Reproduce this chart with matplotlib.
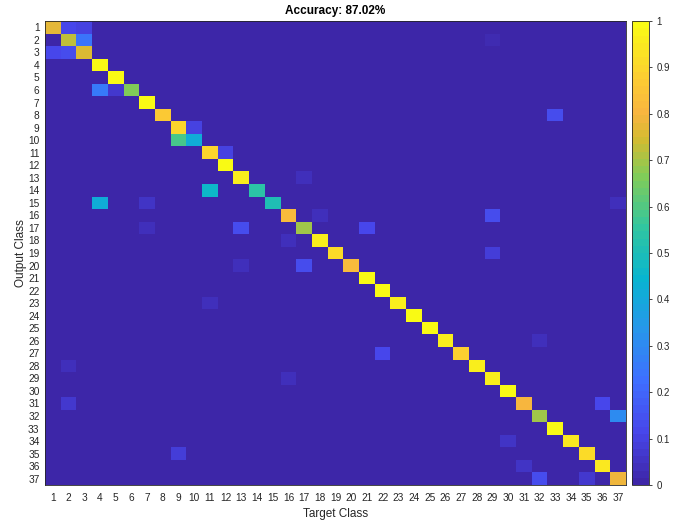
import numpy as np
import matplotlib
matplotlib.use("Agg")
import matplotlib.pyplot as plt
from matplotlib.colors import LinearSegmentedColormap

plt.rcParams["font.family"] = ["Liberation Sans", "DejaVu Sans"]

n_classes = 37
class_labels = [str(i) for i in range(1, n_classes + 1)]

# diagonal (row-normalised, output class rows)
diag_values = [0.78, 0.73, 0.75, 1.00, 1.00, 0.67, 1.00, 0.86, 0.90, 0.42,
               0.90, 1.00, 0.96, 0.54, 0.50, 0.82, 0.70, 0.96, 0.92, 0.82,
               1.00, 1.00, 0.96, 1.00, 1.00, 0.96, 0.89, 0.96, 0.96, 1.00,
               0.81, 0.70, 1.00, 0.94, 0.91, 0.95, 0.79]

# off-diagonal cells: output row, target column, value
off_rows = [1, 1, 2, 2, 3, 3, 6, 6, 8, 9, 10, 11, 13, 14, 15, 15, 15,
            16, 16, 17, 17, 17, 18, 19, 20, 20, 23, 26, 27, 28, 29,
            31, 31, 32, 34, 35, 36, 37, 37]
off_cols = [2, 3, 3, 29, 1, 2, 4, 5, 33, 10, 9, 12, 17, 11, 4, 7, 37,
            18, 29, 7, 13, 21, 16, 29, 13, 17, 11, 32, 22, 2, 16,
            2, 36, 37, 30, 9, 31, 32, 35]
off_values = [0.12, 0.10, 0.24, 0.03, 0.11, 0.14, 0.26, 0.07, 0.14, 0.10, 0.58, 0.10, 0.04, 0.46, 0.41, 0.05, 0.04,
              0.04, 0.14, 0.04, 0.14, 0.12, 0.04, 0.08, 0.04, 0.14, 0.04, 0.04, 0.11, 0.04, 0.04,
              0.07, 0.12, 0.30, 0.06, 0.09, 0.05, 0.14, 0.07]

M = np.zeros((n_classes, n_classes))
M[np.arange(n_classes), np.arange(n_classes)] = diag_values
for r, c, v in zip(off_rows, off_cols, off_values):
    M[r - 1, c - 1] = v

# parula-like colormap (64 steps)
parula_pts = [
    (0.000, (0.2422, 0.1504, 0.6603)),
    (0.111, (0.2803, 0.2782, 0.9221)),
    (0.222, (0.2440, 0.4358, 0.9988)),
    (0.333, (0.1540, 0.5902, 0.9218)),
    (0.444, (0.0297, 0.7082, 0.8163)),
    (0.556, (0.1938, 0.7758, 0.6251)),
    (0.667, (0.5044, 0.7993, 0.3480)),
    (0.750, (0.8300, 0.7350, 0.1900)),
    (0.805, (0.9700, 0.7100, 0.2500)),
    (0.880, (0.9900, 0.8000, 0.2000)),
    (1.000, (0.9769, 0.9839, 0.0805)),
]
parula = LinearSegmentedColormap.from_list("parula", parula_pts, N=64)

fig = plt.figure(figsize=(6.83, 5.21), dpi=100)
ax = fig.add_axes([45 / 683, 1 - 485 / 521, 581 / 683, 464 / 521])
im = ax.imshow(M, cmap=parula, vmin=0, vmax=1, aspect="auto",
               interpolation="nearest",
               extent=(0.5, n_classes + 0.5, n_classes + 0.5, 0.5))

ax.set_xticks(np.arange(1, n_classes + 1))
ax.set_yticks(np.arange(1, n_classes + 1))
ax.set_xticklabels(class_labels, fontsize=7.3, color="#262626")
ax.set_yticklabels(class_labels, fontsize=7.3, color="#262626")
ax.tick_params(axis="x", length=0, pad=6)
ax.tick_params(axis="y", length=0, pad=4)
for s in ax.spines.values():
    s.set_color("#262626")
    s.set_linewidth(0.6)

ax.set_xlabel("Target Class", fontsize=8.5, color="#262626", labelpad=3)
ax.set_ylabel("Output Class", fontsize=8.5, color="#262626", labelpad=1)
ax.set_title("Accuracy: 87.02%", fontsize=8.5, fontweight="bold", pad=5)

cax = fig.add_axes([632 / 683, 1 - 485 / 521, 17 / 683, 464 / 521])
cb = fig.colorbar(im, cax=cax, ticks=np.linspace(0, 1, 11))
cb.ax.set_yticklabels(["0", "0.1", "0.2", "0.3", "0.4", "0.5",
                       "0.6", "0.7", "0.8", "0.9", "1"])
cb.ax.tick_params(labelsize=7, length=2.5, width=0.6, colors="#262626", pad=3)
cb.outline.set_edgecolor("#262626")
cb.outline.set_linewidth(0.6)

fig.savefig("out.png", dpi=100)
